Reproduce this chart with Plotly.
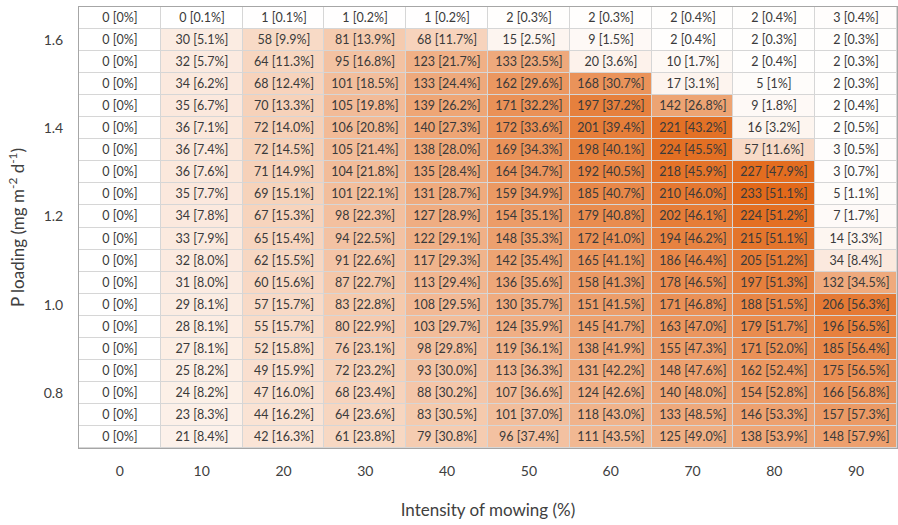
import plotly.graph_objects as go

# Mowing intensity (%) along the columns
mowing = [0, 10, 20, 30, 40, 50, 60, 70, 80, 90]

# P loading (mg m-2 d-1) for each row, top to bottom
p_loading = [1.65, 1.60, 1.55, 1.50, 1.45, 1.40, 1.35, 1.30, 1.25, 1.20,
             1.15, 1.10, 1.05, 1.00, 0.95, 0.90, 0.85, 0.80, 0.75, 0.70]

# Counts per cell (rows follow p_loading, columns follow mowing)
counts = [
    [0, 0, 1, 1, 1, 2, 2, 2, 2, 3],
    [0, 30, 58, 81, 68, 15, 9, 2, 2, 2],
    [0, 32, 64, 95, 123, 133, 20, 10, 2, 2],
    [0, 34, 68, 101, 133, 162, 168, 17, 5, 2],
    [0, 35, 70, 105, 139, 171, 197, 142, 9, 2],
    [0, 36, 72, 106, 140, 172, 201, 221, 16, 2],
    [0, 36, 72, 105, 138, 169, 198, 224, 57, 3],
    [0, 36, 71, 104, 135, 164, 192, 218, 227, 3],
    [0, 35, 69, 101, 131, 159, 185, 210, 233, 5],
    [0, 34, 67, 98, 127, 154, 179, 202, 224, 7],
    [0, 33, 65, 94, 122, 148, 172, 194, 215, 14],
    [0, 32, 62, 91, 117, 142, 165, 186, 205, 34],
    [0, 31, 60, 87, 113, 136, 158, 178, 197, 132],
    [0, 29, 57, 83, 108, 130, 151, 171, 188, 206],
    [0, 28, 55, 80, 103, 124, 145, 163, 179, 196],
    [0, 27, 52, 76, 98, 119, 138, 155, 171, 185],
    [0, 25, 49, 72, 93, 113, 131, 148, 162, 175],
    [0, 24, 47, 68, 88, 107, 124, 140, 154, 166],
    [0, 23, 44, 64, 83, 101, 118, 133, 146, 157],
    [0, 21, 42, 61, 79, 96, 111, 125, 138, 148],
]

# Share of the total for each cell, as printed
percents = [
    ["0", "0.1", "0.1", "0.2", "0.2", "0.3", "0.3", "0.4", "0.4", "0.4"],
    ["0", "5.1", "9.9", "13.9", "11.7", "2.5", "1.5", "0.4", "0.3", "0.3"],
    ["0", "5.7", "11.3", "16.8", "21.7", "23.5", "3.6", "1.7", "0.4", "0.3"],
    ["0", "6.2", "12.4", "18.5", "24.4", "29.6", "30.7", "3.1", "1", "0.3"],
    ["0", "6.7", "13.3", "19.8", "26.2", "32.2", "37.2", "26.8", "1.8", "0.4"],
    ["0", "7.1", "14.0", "20.8", "27.3", "33.6", "39.4", "43.2", "3.2", "0.5"],
    ["0", "7.4", "14.5", "21.4", "28.0", "34.3", "40.1", "45.5", "11.6", "0.5"],
    ["0", "7.6", "14.9", "21.8", "28.4", "34.7", "40.5", "45.9", "47.9", "0.7"],
    ["0", "7.7", "15.1", "22.1", "28.7", "34.9", "40.7", "46.0", "51.1", "1.1"],
    ["0", "7.8", "15.3", "22.3", "28.9", "35.1", "40.8", "46.1", "51.2", "1.7"],
    ["0", "7.9", "15.4", "22.5", "29.1", "35.3", "41.0", "46.2", "51.1", "3.3"],
    ["0", "8.0", "15.5", "22.6", "29.3", "35.4", "41.1", "46.4", "51.2", "8.4"],
    ["0", "8.0", "15.6", "22.7", "29.4", "35.6", "41.3", "46.5", "51.3", "34.5"],
    ["0", "8.1", "15.7", "22.8", "29.5", "35.7", "41.5", "46.8", "51.5", "56.3"],
    ["0", "8.1", "15.7", "22.9", "29.7", "35.9", "41.7", "47.0", "51.7", "56.5"],
    ["0", "8.1", "15.8", "23.1", "29.8", "36.1", "41.9", "47.3", "52.0", "56.4"],
    ["0", "8.2", "15.9", "23.2", "30.0", "36.3", "42.2", "47.6", "52.4", "56.5"],
    ["0", "8.2", "16.0", "23.4", "30.2", "36.6", "42.6", "48.0", "52.8", "56.8"],
    ["0", "8.3", "16.2", "23.6", "30.5", "37.0", "43.0", "48.5", "53.3", "57.3"],
    ["0", "8.4", "16.3", "23.8", "30.8", "37.4", "43.5", "49.0", "53.9", "57.9"],
]

y_ticks = [0.8, 1.0, 1.2, 1.4, 1.6]

cell_text = [[f"{c} [{p}%]" for c, p in zip(crow, prow)]
             for crow, prow in zip(counts, percents)]

fig = go.Figure(go.Heatmap(
    x=mowing,
    y=p_loading,
    z=counts,
    text=cell_text,
    texttemplate="%{text}",
    textfont=dict(family="Lato, sans-serif", size=12.5, color="#3a3a3a"),
    colorscale=[[0, "#FFFFFF"], [1, "#E2691A"]],
    zmin=0,
    zmax=max(max(r) for r in counts),
    showscale=False,
    xgap=1,
    ygap=1,
    hoverinfo="skip",
))

fig.update_layout(
    width=898,
    height=525,
    margin=dict(l=79, r=1, t=7, b=77),
    paper_bgcolor="white",
    plot_bgcolor="#D6D6D6",
    font=dict(family="Lato, sans-serif", color="#404040"),
    xaxis=dict(
        tickvals=mowing,
        ticktext=[str(m) for m in mowing],
        range=[-5, 95],
        showgrid=False,
        zeroline=False,
        showline=True,
        linecolor="#A6A6A6",
        linewidth=1,
        mirror=True,
        ticks="",
        ticklabelstandoff=10,
        tickfont=dict(size=14, color="#404040"),
        title=dict(text="Intensity of mowing (%)", font=dict(size=17, color="#404040"), standoff=26),
    ),
    yaxis=dict(
        tickvals=y_ticks,
        ticktext=[f"{v:.1f}" for v in y_ticks],
        range=[0.675, 1.675],
        showgrid=False,
        zeroline=False,
        showline=True,
        linecolor="#A6A6A6",
        linewidth=1,
        mirror=True,
        ticks="",
        ticklabelstandoff=12,
        tickfont=dict(size=14, color="#404040"),
        title=dict(text="P loading (mg m<sup>-2</sup> d<sup>-1</sup>)", font=dict(size=17, color="#404040"), standoff=14),
    ),
)

fig.write_html("out.html")
